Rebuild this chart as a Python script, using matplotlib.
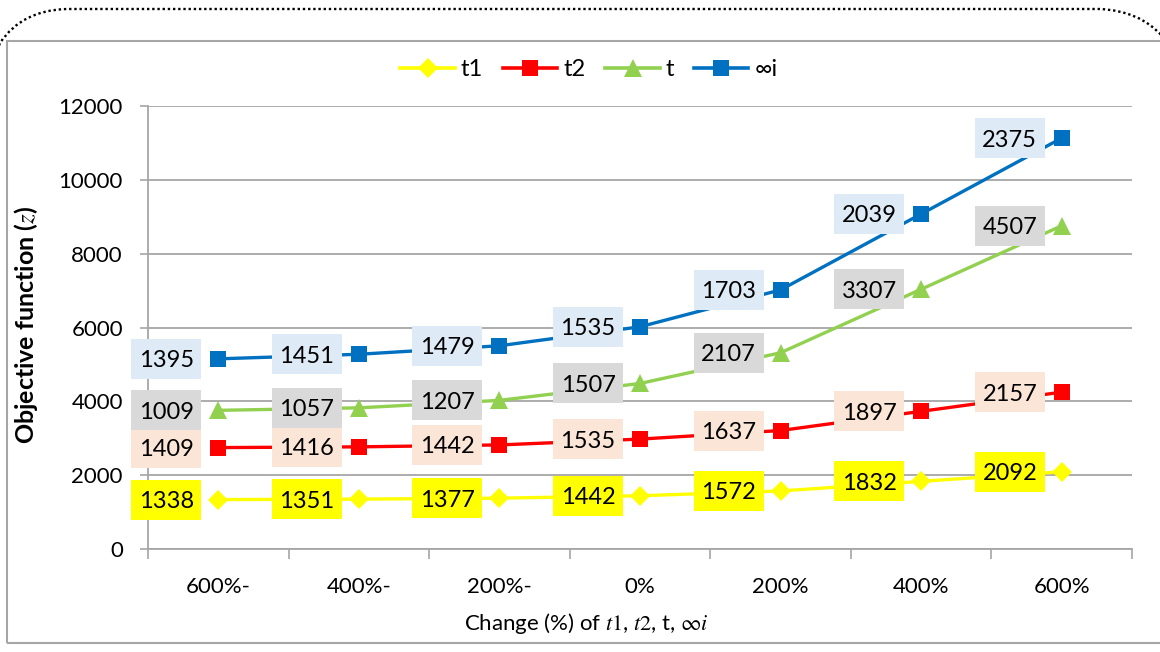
import numpy as np
import matplotlib
matplotlib.use("Agg")
import matplotlib.pyplot as plt
from matplotlib.patches import Rectangle, PathPatch
from matplotlib.path import Path
from matplotlib.lines import Line2D
from matplotlib.transforms import Affine2D, IdentityTransform

plt.rcParams['font.family'] = ['Lato', 'DejaVu Sans']
plt.rcParams['mathtext.fontset'] = 'stix'

categories = ["600%-", "400%-", "200%-", "0%", "200%", "400%", "600%"]
t1 = [1338, 1351, 1377, 1442, 1572, 1832, 2092]
t2 = [1409, 1416, 1442, 1535, 1637, 1897, 2157]
t = [1009, 1057, 1207, 1507, 2107, 3307, 4507]
inf_i = [1395, 1451, 1479, 1535, 1703, 2039, 2375]
series_names = ["t1", "t2", "t", "∞i"]
y_ticks = [0, 2000, 4000, 6000, 8000, 10000, 12000]

W, H = 1160, 652
fig = plt.figure(figsize=(W / 100, H / 100), dpi=100)
pix = Affine2D().scale(1 / W, 1 / H) + fig.transFigure  # pixel coords, y from bottom

# outer frame
fig.patches.append(Rectangle((7, H - 643), W + 20, 643 - 41, transform=pix,
                             fill=False, edgecolor='#A6A6A6', lw=1.5))
# dotted rounded top border
verts = [(-2, H - 48), (0, H - 43), (22, H - 10), (67, H - 9),
         (1100, H - 9), (1140, H - 11), (1162, H - 36)]
codes = [Path.MOVETO, Path.LINETO, Path.CURVE3, Path.CURVE3,
         Path.LINETO, Path.CURVE3, Path.CURVE3]
fig.patches.append(PathPatch(Path(verts, codes), transform=pix, fill=False,
                             edgecolor='black', lw=1.7, linestyle=(0, (1, 1.2))))

ax = fig.add_axes([148 / W, (H - 549) / H, (1132 - 148) / W, (549 - 106) / H])

x = np.arange(len(categories))
data = np.array([t1, t2, t, inf_i])
stacked = np.cumsum(data, axis=0)

colors = ['#FFFF00', '#FF0000', '#92D050', '#0070C0']
markers = ['D', 's', '^', 's']
msizes = [10, 12, 13, 12]
box_colors = ['#FFFF00', '#FBE5D6', '#D9D9D9', '#DEEBF7']

ax.set_xlim(-0.5, len(categories) - 0.5)
ax.set_ylim(0, 12000)

for i in range(4):
    ax.plot(x, stacked[i], color=colors[i], lw=2.4, marker=markers[i],
            markersize=msizes[i], markeredgewidth=0, zorder=3)
    for xi, yv, lab in zip(x, stacked[i], data[i]):
        px, py = ax.transData.transform((xi, yv))
        ax.add_patch(Rectangle((px - 52 - 35, py - 20), 70, 40, transform=IdentityTransform(),
                               fc=box_colors[i], ec='none', zorder=4, clip_on=False))
        ax.annotate(str(lab), (xi, yv), xytext=(-37.4, 0), textcoords='offset points',
                    ha='center', va='center_baseline', fontsize=17, color='black', zorder=5)

ax.set_yticks(y_ticks)
ax.set_yticklabels([str(v) for v in y_ticks], fontsize=16)
ax.set_xticks(np.arange(-0.5, len(categories), 1.0))
ax.set_xticklabels([])
ax.set_xticks(x, minor=True)
ax.set_xticklabels(categories, minor=True, fontsize=16)
ax.tick_params(axis='x', which='major', length=7, color='#A6A6A6', width=1.2)
ax.tick_params(axis='x', which='minor', length=0, pad=20)
ax.tick_params(axis='y', length=6, color='#A6A6A6', width=1.2, pad=12)
ax.grid(axis='y', color='#A6A6A6', lw=1.3)
ax.set_axisbelow(True)
for s in ['top', 'right']:
    ax.spines[s].set_visible(False)
for s in ['left', 'bottom']:
    ax.spines[s].set_color('#A6A6A6')
    ax.spines[s].set_linewidth(1.3)

ax.set_ylabel(r'Objective function ($z$)', fontsize=18, fontweight='bold')
ax.yaxis.set_label_coords((40 - 148) / 984, (549 - 325) / 443)
ax.set_xlabel(r'Change (%) of $t1$, $t2$, t, $\infty i$', fontsize=16)
ax.xaxis.set_label_coords((586 - 148) / 984, (549 - 623) / 443)
ax.xaxis.label.set_va('center')

handles = [Line2D([], [], color=colors[i], lw=2.6, marker=markers[i],
                  markersize=msizes[i], markeredgewidth=0) for i in range(4)]
fig.legend(handles, series_names, loc='center', bbox_to_anchor=(589 / W, (H - 70) / H),
           ncol=4, frameon=False, fontsize=17, handlelength=2.3, columnspacing=0.85,
           handletextpad=0.25)

fig.savefig('out.png', dpi=100)
